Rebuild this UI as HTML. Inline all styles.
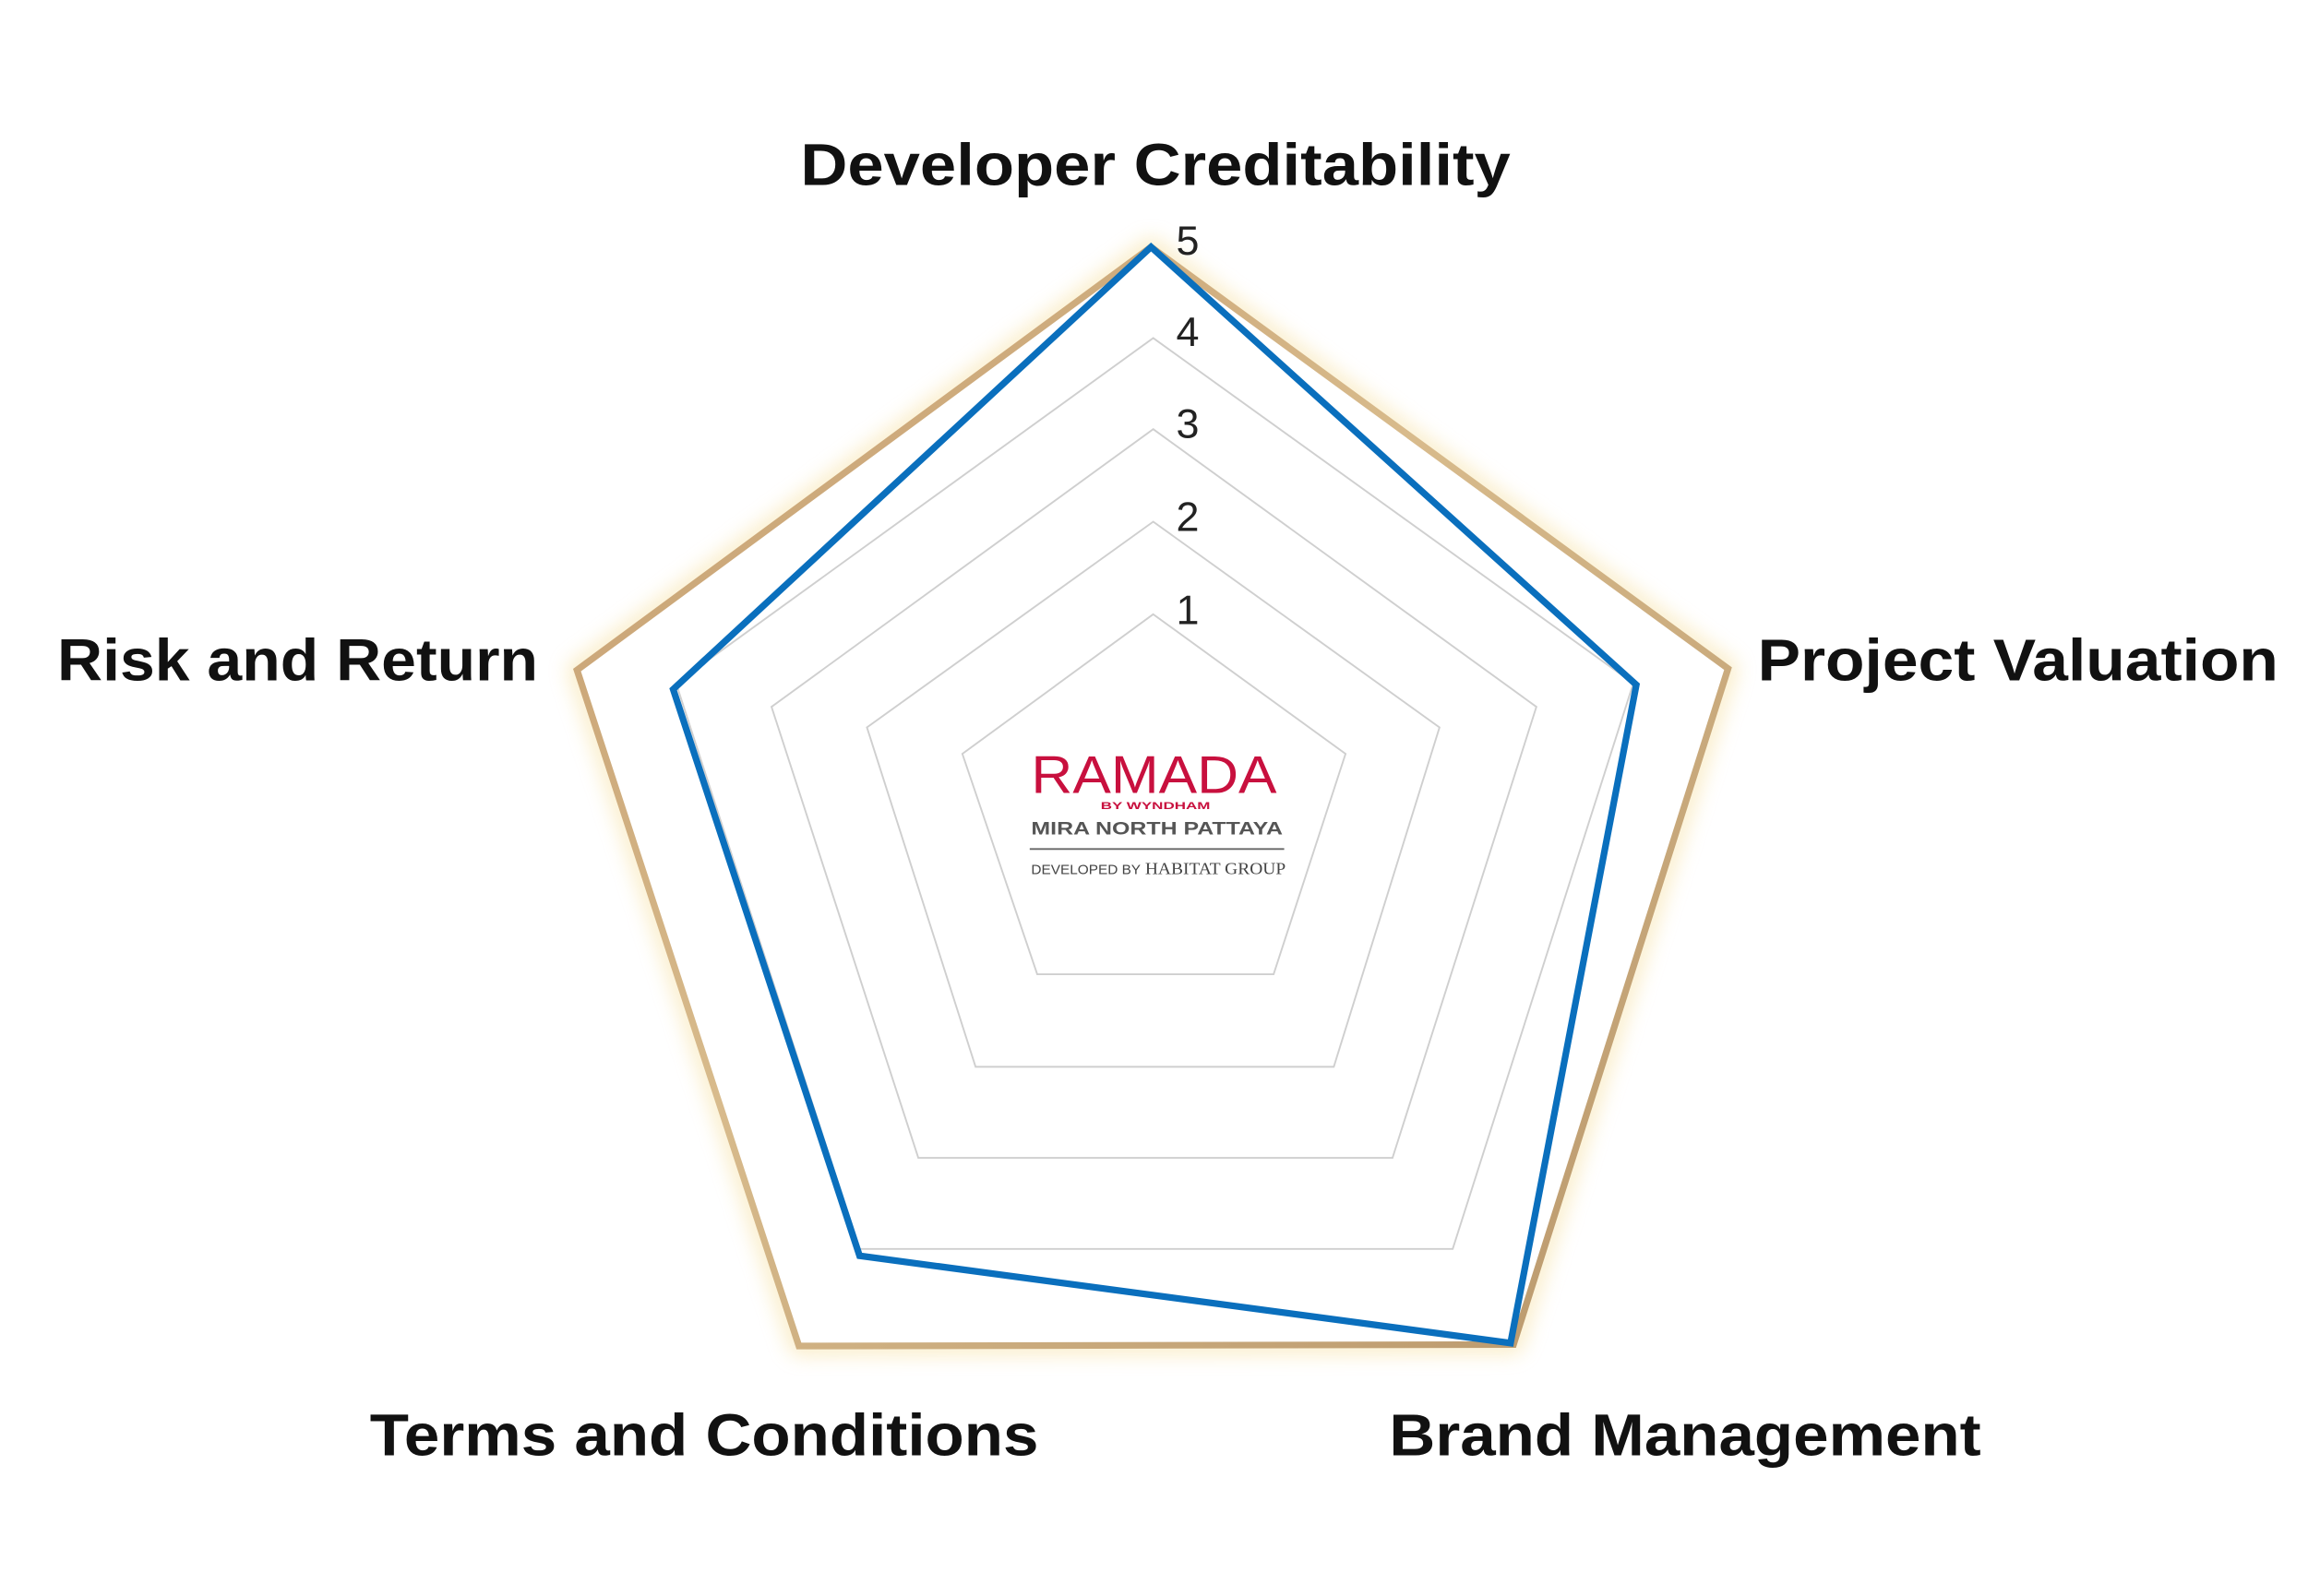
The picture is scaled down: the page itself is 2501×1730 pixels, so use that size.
<!DOCTYPE html>
<html><head><meta charset="utf-8"><style>
html,body{margin:0;padding:0;background:#fff;}
svg{display:block;}
</style></head><body>
<svg width="2501" height="1730" viewBox="0 0 1560 1079" preserveAspectRatio="none" xmlns="http://www.w3.org/2000/svg">
<defs>
<linearGradient id="g" x1="0" y1="0" x2="1" y2="1">
<stop offset="0" stop-color="#c39a6c"/>
<stop offset="0.45" stop-color="#d8bb8c"/>
<stop offset="1" stop-color="#b8966a"/>
</linearGradient>
<filter id="glow" x="-10%" y="-10%" width="120%" height="120%"><feGaussianBlur stdDeviation="7"/></filter>
</defs>
<rect width="1560" height="1079" fill="#fff"/>
<polygon points="778,167 1168,452 1023,909 540,910 390,453" fill="none" stroke="#f5d98a" stroke-width="10" opacity="0.6" filter="url(#glow)"/>
<polygon points="778,167 1168,452 1023,909 540,910 390,453" fill="#fff" stroke="url(#g)" stroke-width="4.5" stroke-linejoin="miter"/>
<g fill="none" stroke="#cfcfcf" stroke-width="1.2" transform="matrix(0.9923,0,0,0.9933,2.5,-1.9)">
<polygon points="783,232 1110,467 987,852 583,852 458,467"/>
<polygon points="783,294 1044,483 946,790 623,790 523,483"/>
<polygon points="783,357 978,497 906,728 662,728 588,497"/>
<polygon points="783,420 914,515 865,665 704,665 653,515"/>
</g>
<polygon points="778,167 1106,463 1021,908 581,849 455,466" fill="none" stroke="#0a6fbd" stroke-width="4.5" stroke-linejoin="miter"/>
<g font-family="Liberation Sans, sans-serif" font-size="28" fill="#222">
<text x="795" y="172">5</text><text x="795" y="234">4</text><text x="795" y="296">3</text><text x="795" y="359">2</text><text x="795" y="422">1</text>
</g>
<g font-family="Liberation Sans, sans-serif" font-size="40" fill="#111" font-weight="bold">
<text x="541" y="125" textLength="480" lengthAdjust="spacingAndGlyphs">Developer Creditability</text>
<text x="38.7" y="460" textLength="325" lengthAdjust="spacingAndGlyphs">Risk and Return</text>
<text x="1188" y="460" textLength="352" lengthAdjust="spacingAndGlyphs">Project Valuation</text>
<text x="250" y="984" textLength="452" lengthAdjust="spacingAndGlyphs">Terms and Conditions</text>
<text x="939" y="984" textLength="400" lengthAdjust="spacingAndGlyphs">Brand Management</text>
</g>
<g font-family="Liberation Sans, sans-serif">
<text x="697" y="536" font-size="36" fill="#c8103e" textLength="166" lengthAdjust="spacingAndGlyphs">RAMADA</text>
<text x="744" y="547" font-size="7" fill="#c8103e" textLength="74" lengthAdjust="spacingAndGlyphs" font-weight="bold">BY WYNDHAM</text>
<text x="697" y="564" font-size="12" fill="#555" font-weight="bold" textLength="170" lengthAdjust="spacingAndGlyphs">MIRA NORTH PATTAYA</text>
<line x1="696" y1="574" x2="868" y2="574" stroke="#666" stroke-width="1.2"/>
<text x="697" y="591" font-size="9" fill="#444" textLength="74" lengthAdjust="spacingAndGlyphs">DEVELOPED BY</text>
<text x="774" y="591" font-size="11" fill="#444" font-family="Liberation Serif, serif" textLength="95" lengthAdjust="spacingAndGlyphs">HABITAT GROUP</text>
</g>
</svg>
</body></html>
